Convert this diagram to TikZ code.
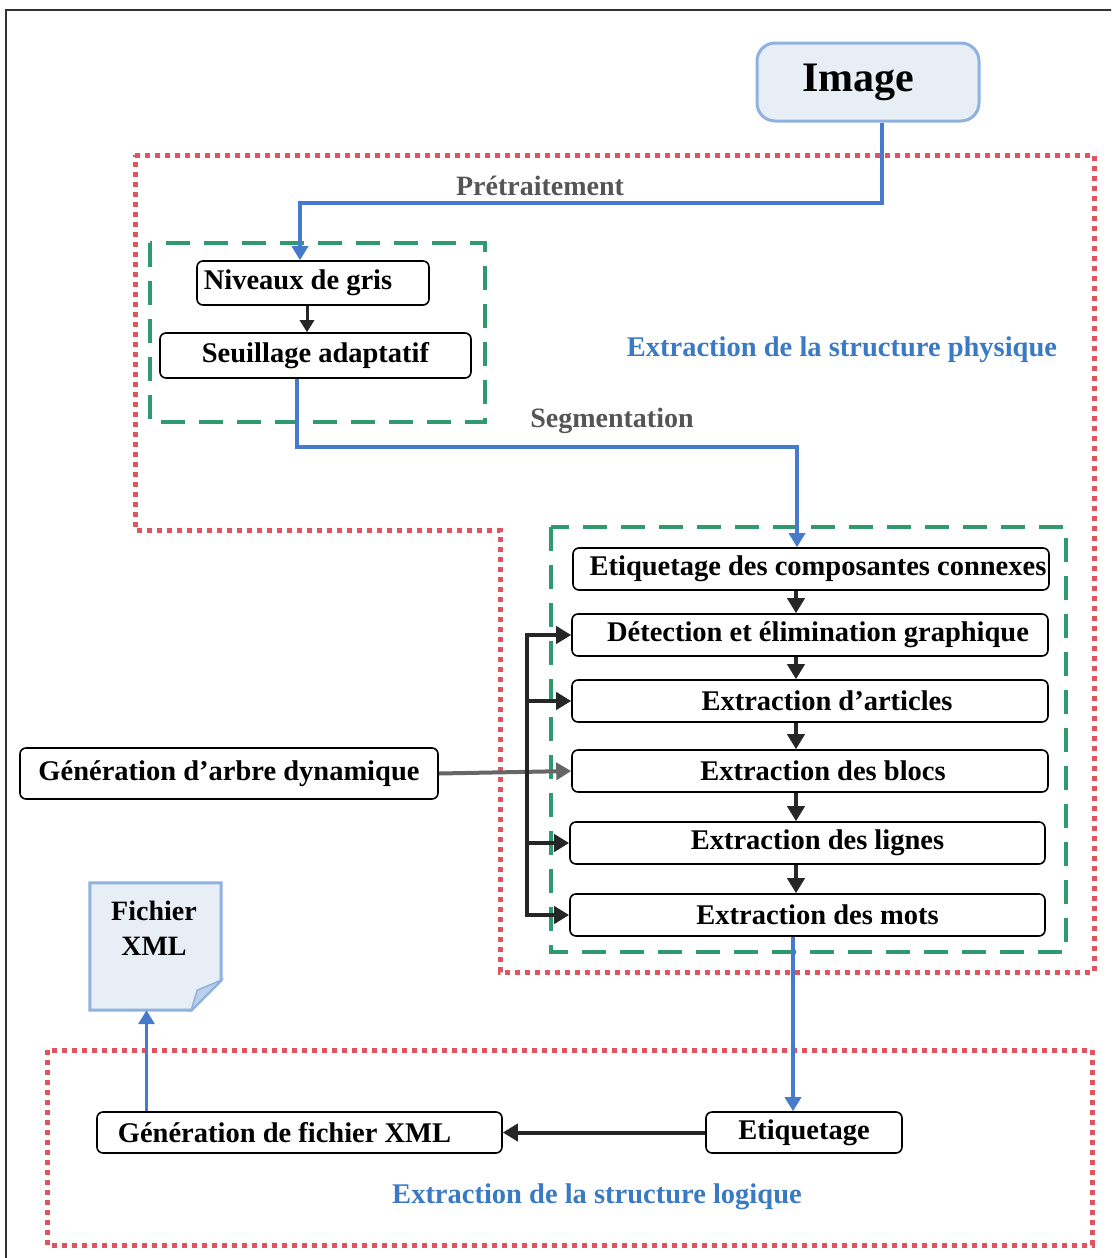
\documentclass[tikz,border=0pt]{standalone}
\usepackage{fontspec}
\setmainfont{Liberation Serif}
\usetikzlibrary{arrows.meta}
\definecolor{flowblue}{RGB}{70,122,204}
\definecolor{titleblue}{RGB}{58,122,196}
\definecolor{zonered}{RGB}{224,84,96}
\definecolor{zonegreen}{RGB}{46,154,110}
\definecolor{imgfill}{RGB}{232,238,246}
\definecolor{imgedge}{RGB}{142,177,222}
\definecolor{labelgray}{RGB}{85,85,85}
\tikzset{
  stage/.style={draw=black, rounded corners=6pt, line width=1.6pt, fill=white,
    inner sep=0pt, font=\bfseries\fontsize{28.5}{32}\selectfont},
  zonedot/.style={draw=zonered, line width=5pt, dash pattern=on 5pt off 5pt},
  zonedash/.style={draw=zonegreen, line width=4pt, dash pattern=on 24pt off 14pt},
  flow/.style={draw=flowblue, line width=3.5pt,
    -{Triangle[width=16pt,length=14pt]}},
  blk/.style={draw=black!85, line width=4pt,
    -{Triangle[width=17pt,length=15pt]}},
  flowlabel/.style={text=labelgray, font=\bfseries\fontsize{28}{32}\selectfont},
  zonetitle/.style={text=titleblue, font=\bfseries\fontsize{28.5}{32}\selectfont},
}
\begin{document}
\begin{tikzpicture}[x=1pt, y=-1pt]
\useasboundingbox (0,0) rectangle (1111,1258);
\clip (0,0) rectangle (1111,1258);
% outer frame
\draw[line width=1.5pt, black!80] (6,10) rectangle (1130,1280);

% zones
\draw[zonedot] (135,155) -- (1094,155) -- (1094,972) -- (500,972) -- (500,530) -- (135,530) -- cycle;
\draw[zonedot] (47,1050) rectangle (1092,1245);
\draw[zonedash] (150,243) rectangle (485,422);
\draw[zonedash] (551,527) rectangle (1066,952);

% nodes
\node[draw=imgedge, line width=3pt, fill=imgfill, rounded corners=18pt,
  minimum width=222pt, minimum height=78pt, inner sep=0pt,
  font=\bfseries\fontsize{42}{46}\selectfont] (img) at (868,82) {Image\kern20pt};

\node[stage, minimum width=232pt, minimum height=44pt] (niv) at (313,283) {Niveaux de gris\kern30pt};
\node[stage, minimum width=311pt, minimum height=45pt] (seu) at (315.5,355.5) {Seuillage adaptatif};

\node[stage, minimum width=476pt, minimum height=42pt] (etq) at (811,569) {\hspace{14pt}Etiquetage des composantes connexes};
\node[stage, minimum width=476pt, minimum height=42pt] (det) at (810,635) {\hspace{16pt}Détection et élimination graphique};
\node[stage, minimum width=476pt, minimum height=42pt] (art) at (810,701) {\hspace{34pt}Extraction d’articles};
\node[stage, minimum width=476pt, minimum height=42pt] (blo) at (810,771) {\hspace{26pt}Extraction des blocs};
\node[stage, minimum width=475pt, minimum height=42pt] (lig) at (807.5,843) {\hspace{20pt}Extraction des lignes};
\node[stage, minimum width=475pt, minimum height=42pt] (mot) at (807.5,915) {\hspace{20pt}Extraction des mots};

\node[stage, minimum width=418pt, minimum height=51pt] (gen) at (229,773.5) {Génération d’arbre dynamique};

\node[stage, minimum width=196pt, minimum height=41pt] (etb) at (804,1132.5) {Etiquetage};
\node[stage, minimum width=405pt, minimum height=41pt] (gxm) at (299.5,1132.5) {Génération de fichier XML\kern30pt};

% document icon for the XML file
\node[minimum width=131pt, minimum height=127pt, inner sep=0pt] (xml) at (155.5,946.5) {};
\path[draw=imgedge, line width=3pt, fill=imgfill]
  (xml.north west) -- (xml.north east) -- ([yshift=30pt]xml.south east)
  -- ([xshift=-30pt]xml.south east) -- (xml.south west) -- cycle;
\path[draw=imgedge, line width=1.5pt, fill=imgedge!60]
  ([yshift=30pt]xml.south east) -- ([xshift=-30pt]xml.south east)
  -- ([xshift=-24pt,yshift=20pt]xml.south east) -- cycle;
\node[align=center, font=\bfseries\fontsize{28}{35}\selectfont] (xmltxt) at (154,928) {Fichier\\XML};

% physical structure flow
\coordinate (pre) at (300,203);
\draw[flow] ([xshift=14pt]img.south) |- (pre) -- (pre |- niv.north);
\node[flowlabel] (prelbl) at (540,186) {Prétraitement};
\draw[blk, line width=3pt, -{Triangle[width=14pt,length=12pt]}] ([xshift=-6pt]niv.south) -- ([xshift=-6pt]niv.south |- seu.north);

\coordinate (seg) at (797,447);
\draw[flow] ([xshift=-18.5pt]seu.south) |- (seg) -- (seg |- etq.north);
\node[flowlabel] (seglbl) at (612,421) {Segmentation};

\node[zonetitle] (phys) at (842,350) {Extraction de la structure physique};

% segmentation chain
\coordinate (col) at (796,0);
\draw[blk] (etq.south -| col) -- (det.north -| col);
\draw[blk] (det.south -| col) -- (art.north -| col);
\draw[blk] (art.south -| col) -- (blo.north -| col);
\draw[blk] (blo.south -| col) -- (lig.north -| col);
\draw[blk] (lig.south -| col) -- (mot.north -| col);

% dynamic tree feeding the stages
\coordinate (bus) at (527,773.5);
\draw[blk, draw=black!60] (gen.east) -- (blo.west);
\draw[blk] (bus) |- (det.west);
\draw[blk] (bus) |- (art.west);
\draw[blk] (bus) |- (lig.west);
\draw[blk] (bus) |- (mot.west);

% logical structure
\draw[flow] ([xshift=-14.5pt]mot.south) -- ([xshift=-14.5pt]mot.south |- etb.north);
\draw[blk] (etb.west) -- (gxm.east);
\draw[flow] ([xshift=-9pt]xml.south |- gxm.north) -- ([xshift=-9pt]xml.south);
\node[zonetitle] (logi) at (597,1197) {Extraction de la structure logique};
\end{tikzpicture}
\end{document}
